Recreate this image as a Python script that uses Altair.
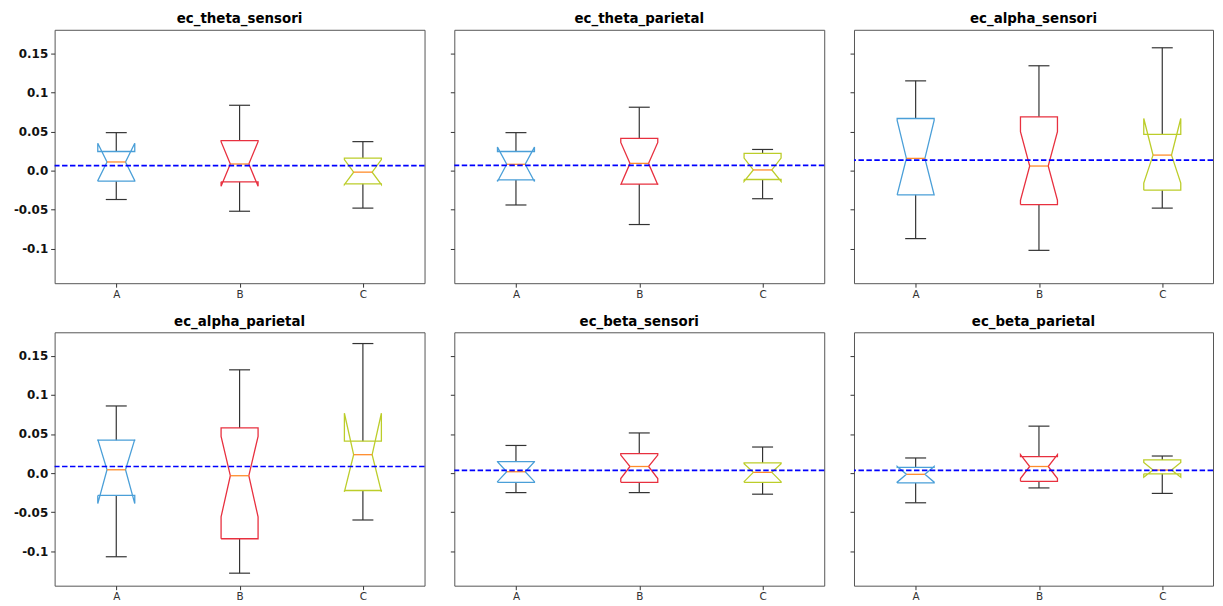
import altair as alt
import pandas as pd

# ---------------- data ----------------
panels = ["ec_theta_sensori", "ec_theta_parietal", "ec_alpha_sensori",
          "ec_alpha_parietal", "ec_beta_sensori", "ec_beta_parietal"]
groups = ["A", "B", "C"]
colors = ["#4a9fd8", "#e8303f", "#bccd2a"]

whisker_low = [[-0.037, -0.052, -0.048], [-0.044, -0.069, -0.036], [-0.087, -0.102, -0.048],
               [-0.107, -0.128, -0.060], [-0.025, -0.025, -0.027], [-0.038, -0.019, -0.026]]
q1 = [[-0.0135, -0.0144, -0.017], [-0.012, -0.0173, -0.0114], [-0.031, -0.0435, -0.025],
      [-0.0286, -0.084, -0.0223], [-0.0118, -0.0118, -0.0118], [-0.0126, -0.0105, -0.0009]]
notch_low = [[-0.013, -0.020, -0.018], [-0.014, -0.018, -0.014], [-0.031, -0.038, -0.016],
             [-0.039, -0.056, -0.024], [-0.011, -0.007, -0.011], [-0.0116, -0.007, -0.0054]]
median = [[0.011, 0.0084, -0.002], [0.008, 0.0092, 0.0008], [0.0156, 0.0058, 0.0198],
          [0.0042, -0.0034, 0.0235], [0.0017, 0.0084, 0.0009], [-0.0016, 0.0084, 0.0038]]
notch_high = [[0.035, 0.037, 0.014], [0.030, 0.036, 0.016], [0.064, 0.0497, 0.0666],
              [0.043, 0.047, 0.0765], [0.0145, 0.023, 0.012], [0.0085, 0.0236, 0.0135]]
q3 = [[0.0244, 0.0384, 0.016], [0.0244, 0.0413, 0.022], [0.0666, 0.0687, 0.0463],
      [0.042, 0.0577, 0.0408], [0.0147, 0.0248, 0.013], [0.0072, 0.021, 0.0168]]
whisker_high = [[0.0485, 0.0835, 0.037], [0.0485, 0.081, 0.027], [0.1147, 0.134, 0.157],
                [0.0858, 0.132, 0.1656], [0.0353, 0.0513, 0.0333], [0.0193, 0.060, 0.0218]]
means = [0.0063, 0.0067, 0.0134, 0.0084, 0.0034, 0.0034]

y_ticks = [-0.1, -0.05, 0.0, 0.05, 0.1, 0.15]
y_domain = [-0.144, 0.180]

# ---------------- styling constants ----------------
BOX_HALF = 0.15
NOTCH_HALF = 0.075
CAP_HALF = 0.085
FONT = "DejaVu Sans"
PW, PH = 373, 255.5
PW_LAST = 362  # the reference is cropped on the right
label_expr = "[" + ",".join("'%s'" % g for g in groups) + "][round(datum.value) - 1]"


def make_panel(i, width, xmax, show_ylabels):
    poly_rows, stat_rows = [], []
    for j, g in enumerate(groups):
        pos = j + 1
        L, R = pos - BOX_HALF, pos + BOX_HALF
        cL, cR = pos - NOTCH_HALF, pos + NOTCH_HALF
        xs = [L, R, R, cR, R, R, L, L, cL, L, L]
        ys = [q1[i][j], q1[i][j], notch_low[i][j], median[i][j], notch_high[i][j], q3[i][j],
              q3[i][j], notch_high[i][j], median[i][j], notch_low[i][j], q1[i][j]]
        for k, (x, y) in enumerate(zip(xs, ys)):
            poly_rows.append({"group": g, "k": k, "x": x, "y": y})
        stat_rows.append({"group": g, "pos": pos, "capL": pos - CAP_HALF, "capR": pos + CAP_HALF,
                          "nL": cL, "nR": cR, "wlo": whisker_low[i][j], "q1": q1[i][j],
                          "med": median[i][j], "q3": q3[i][j], "whi": whisker_high[i][j]})
    poly = pd.DataFrame(poly_rows)
    stats = pd.DataFrame(stat_rows)
    mean_df = pd.DataFrame({"mean": [means[i]]})

    xscale = alt.Scale(domain=[0.5, xmax], nice=False, zero=False)
    yscale = alt.Scale(domain=y_domain, nice=False, zero=False)
    xaxis = alt.Axis(values=[1, 2, 3], labelExpr=label_expr, title=None, grid=False,
                     domain=False, tickSize=4, tickColor="#333", labelFont=FONT,
                     labelFontSize=10.5, labelColor="#333", labelPadding=2)
    yaxis = alt.Axis(values=y_ticks, title=None, grid=False, domain=False, tickSize=4,
                     tickColor="#333", labels=show_ylabels,
                     labelExpr="datum.value == 0 ? '0.0' : '' + datum.value",
                     labelFont=FONT, labelFontSize=12, labelFontWeight="bold",
                     labelColor="#111", labelPadding=3)

    def X(f):
        return alt.X(f, type="quantitative", scale=xscale, axis=xaxis)

    def Y(f):
        return alt.Y(f, type="quantitative", scale=yscale, axis=yaxis)

    whisk_up = alt.Chart(stats).mark_rule(color="#333", strokeWidth=1.2).encode(
        x=X("pos"), y=Y("q3"), y2="whi")
    whisk_dn = alt.Chart(stats).mark_rule(color="#333", strokeWidth=1.2).encode(
        x=X("pos"), y=Y("wlo"), y2="q1")
    cap_up = alt.Chart(stats).mark_rule(color="#333", strokeWidth=1.2).encode(
        x=X("capL"), x2="capR", y=Y("whi"))
    cap_dn = alt.Chart(stats).mark_rule(color="#333", strokeWidth=1.2).encode(
        x=X("capL"), x2="capR", y=Y("wlo"))
    boxes = alt.Chart(poly).mark_line(strokeWidth=1.3, strokeJoin="miter").encode(
        x=X("x"), y=Y("y"), order="k:Q",
        color=alt.Color("group:N", scale=alt.Scale(domain=groups, range=colors), legend=None),
        detail="group:N")
    meds = alt.Chart(stats).mark_rule(color="#ff8c2a", strokeWidth=1.3).encode(
        x=X("nL"), x2="nR", y=Y("med"))
    mean_line = alt.Chart(mean_df).mark_rule(color="#0000ff", strokeWidth=1.6,
                                             strokeDash=[5.5, 2.5]).encode(y=Y("mean"))

    return alt.layer(whisk_up, whisk_dn, cap_up, cap_dn, boxes, meds, mean_line).properties(
        width=width, height=PH,
        title=alt.TitleParams(panels[i], font=FONT, fontSize=13.5, fontWeight="bold",
                              color="#000", offset=4, anchor="middle"))


xmax_last = 0.5 + 3.0 * PW_LAST / PW
cells = []
for r in range(2):
    for c in range(3):
        i = r * 3 + c
        last = c == 2
        cells.append(make_panel(i, PW_LAST if last else PW, xmax_last if last else 3.5, c == 0))

chart = alt.concat(
    *cells, columns=3, spacing={"row": 49, "column": 30}, bounds="flush", align="each"
).properties(
    padding={"left": 4, "top": 1.5, "right": 0, "bottom": 0}, background="white"
).configure_view(stroke="#555", strokeWidth=1)

chart.save("out.html", embed_options={"renderer": "svg", "actions": False})
